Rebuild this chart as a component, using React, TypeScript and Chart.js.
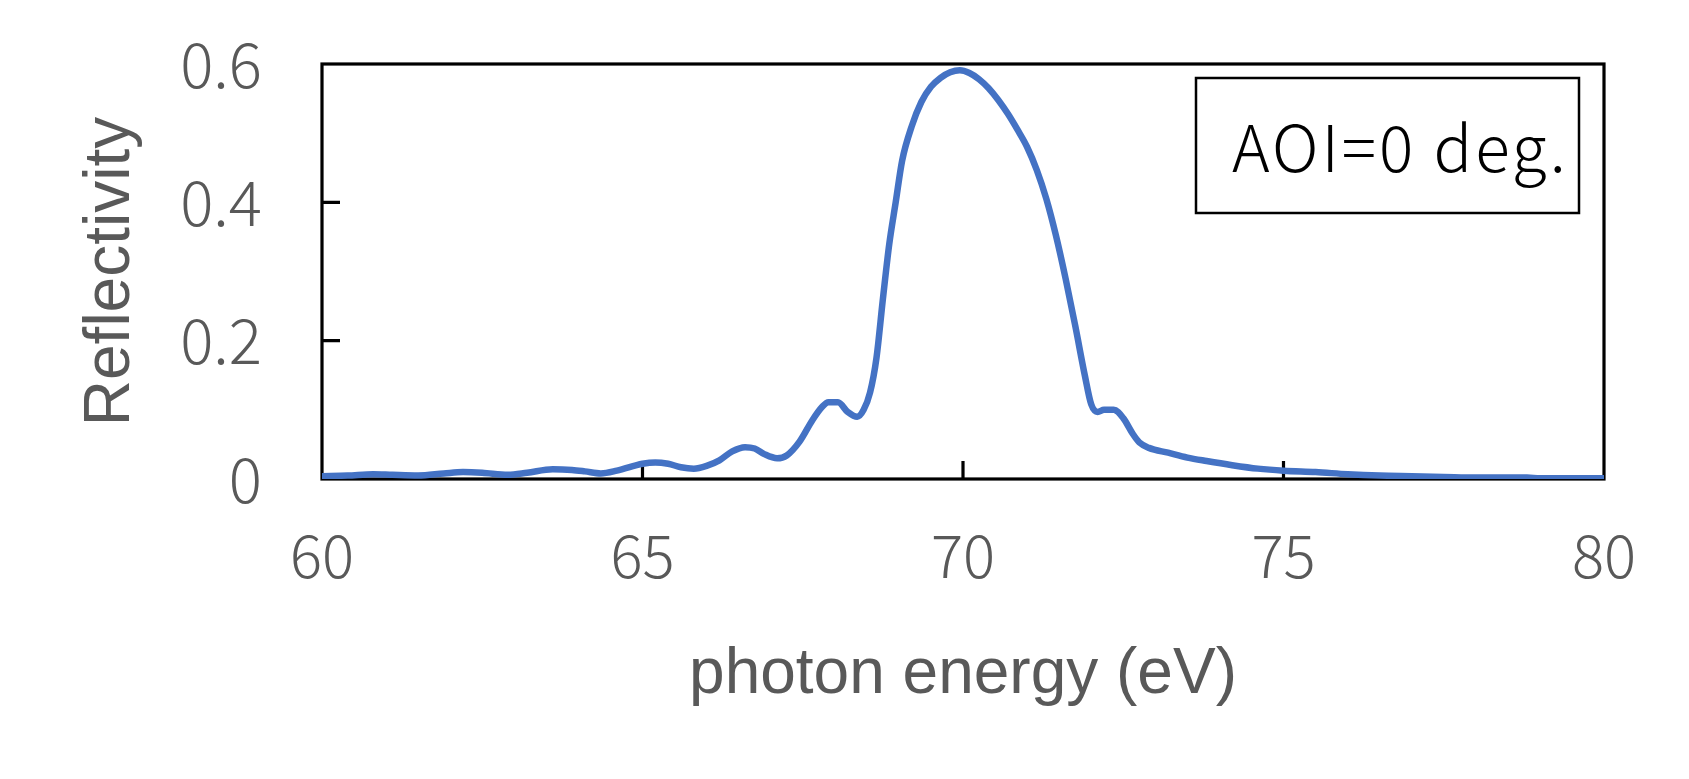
import React, { useEffect, useRef } from 'react';
import { Chart, registerables } from 'chart.js';

Chart.register(...registerables);

// photon energy (eV)
const energy = [
  60.0, 60.4, 60.8, 61.1, 61.5, 61.9, 62.2, 62.5, 62.9, 63.2,
  63.6, 63.9, 64.1, 64.35, 64.6, 65.0, 65.2, 65.4, 65.6, 65.8,
  66.0, 66.2, 66.4, 66.6, 66.75, 66.9, 67.1, 67.25, 67.45, 67.65,
  67.8, 67.9, 68.05, 68.2, 68.35, 68.45, 68.55, 68.65, 68.75, 68.85,
  68.95, 69.05, 69.2, 69.35, 69.5, 69.65, 69.8, 69.95, 70.1, 70.25,
  70.4, 70.55, 70.7, 70.85, 71.0, 71.15, 71.3, 71.45, 71.6, 71.75,
  71.9, 72.0, 72.1, 72.2, 72.35, 72.5, 72.65, 72.75, 72.9, 73.2,
  73.5, 73.8, 74.2, 74.6, 75.0, 75.5, 76.0, 76.5, 77.0, 77.5,
  78.0, 78.8, 79.0, 80.0,
];

// reflectivity at AOI = 0 deg.
const reflectivity = [
  0.004, 0.005, 0.007, 0.006, 0.005, 0.008, 0.010, 0.009, 0.006, 0.009,
  0.014, 0.013, 0.011, 0.008, 0.012, 0.022, 0.024, 0.022, 0.017, 0.015,
  0.019, 0.027, 0.040, 0.046, 0.044, 0.036, 0.030, 0.034, 0.054, 0.085,
  0.104, 0.111, 0.111, 0.097, 0.090, 0.100, 0.125, 0.175, 0.260, 0.340,
  0.400, 0.460, 0.510, 0.545, 0.567, 0.580, 0.588, 0.591, 0.587, 0.578,
  0.565, 0.548, 0.528, 0.505, 0.480, 0.447, 0.405, 0.352, 0.290, 0.222,
  0.150, 0.108, 0.097, 0.100, 0.100, 0.088, 0.065, 0.053, 0.045, 0.038,
  0.031, 0.026, 0.020, 0.015, 0.012, 0.010, 0.007, 0.005, 0.004, 0.003,
  0.002, 0.002, 0.001, 0.001,
];

const xTickValues = [60, 65, 70, 75, 80];
const yTickValues = [0, 0.2, 0.4, 0.6];
const X_TITLE = 'photon energy (eV)';
const Y_TITLE = 'Reflectivity';
const LEGEND_TEXT = 'AOI=0 deg.';

const TICK_FONT = '"Noto Sans CJK JP", "Noto Sans", sans-serif';
const TITLE_FONT = '"Liberation Sans", Arial, sans-serif';
const GRAY = '#595959';

export default function App() {
  const ref = useRef<HTMLCanvasElement | null>(null);

  useEffect(() => {
    const canvas = ref.current;
    if (!canvas) return;

    const framePlugin = {
      id: 'frameAndTicks',
      beforeDatasetsDraw(chart: any) {
        const { ctx, chartArea: a, scales } = chart;
        ctx.save();
        ctx.strokeStyle = '#000000';
        ctx.lineWidth = 3.2;
        ctx.strokeRect(a.left, a.top, a.right - a.left, a.bottom - a.top);
        ctx.beginPath();
        const len = 18;
        xTickValues.forEach((v) => {
          const px = scales.x.getPixelForValue(v);
          if (px > a.left + 3 && px < a.right - 3) {
            ctx.moveTo(px, a.bottom);
            ctx.lineTo(px, a.bottom - len);
          }
        });
        yTickValues.forEach((v) => {
          const py = scales.y.getPixelForValue(v);
          if (py > a.top + 3 && py < a.bottom - 3) {
            ctx.moveTo(a.left, py);
            ctx.lineTo(a.left + len, py);
          }
        });
        ctx.stroke();
        ctx.restore();
      },
      afterDraw(chart: any) {
        const { ctx, chartArea: a } = chart;
        const boxW = 383;
        const boxH = 135;
        const right = a.right - 25;
        const top = a.top + 14;
        const left = right - boxW;
        ctx.save();
        ctx.fillStyle = '#ffffff';
        ctx.fillRect(left, top, boxW, boxH);
        ctx.strokeStyle = '#000000';
        ctx.lineWidth = 2.5;
        ctx.strokeRect(left, top, boxW, boxH);
        ctx.fillStyle = '#000000';
        ctx.font = `300 64px ${TICK_FONT}`;
        (ctx as any).letterSpacing = '3px';
        ctx.textAlign = 'left';
        ctx.textBaseline = 'middle';
        ctx.fillText(LEGEND_TEXT, left + 36, top + boxH / 2 + 2);
        ctx.restore();
      },
    };

    const chart = new Chart(canvas, {
      type: 'line',
      data: {
        datasets: [
          {
            label: LEGEND_TEXT,
            data: energy.map((e, i) => ({ x: e, y: reflectivity[i] })),
            borderColor: '#4472C4',
            borderWidth: 6.5,
            pointRadius: 0,
            fill: false,
            cubicInterpolationMode: 'monotone',
            borderJoinStyle: 'round',
            borderCapStyle: 'round',
          },
        ],
      },
      options: {
        responsive: false,
        animation: false,
        layout: { padding: { top: 64, right: 85, left: 0, bottom: 0 } },
        plugins: {
          legend: { display: false },
          tooltip: { enabled: false },
        },
        scales: {
          x: {
            type: 'linear',
            min: 60,
            max: 80,
            afterFit: (s: any) => {
              s.height = 300;
              s.paddingLeft = 0;
              s.paddingRight = 0;
            },
            afterBuildTicks: (s: any) => {
              s.ticks = xTickValues.map((v) => ({ value: v }));
            },
            grid: { display: false, drawTicks: false },
            border: { display: false },
            ticks: {
              padding: 40,
              color: GRAY,
              font: { family: TICK_FONT, size: 60, weight: '300' as any },
              maxRotation: 0,
              callback: (v: any) => String(v),
            },
            title: {
              display: true,
              text: X_TITLE,
              color: GRAY,
              font: { family: TITLE_FONT, size: 64 },
              padding: { top: 0, bottom: 65 },
            },
          },
          y: {
            type: 'linear',
            min: 0,
            max: 0.6,
            afterFit: (s: any) => {
              s.width = 322;
              s.paddingTop = 0;
              s.paddingBottom = 0;
            },
            afterBuildTicks: (s: any) => {
              s.ticks = yTickValues.map((v) => ({ value: v }));
            },
            grid: { display: false, drawTicks: false },
            border: { display: false },
            ticks: {
              padding: 60,
              color: GRAY,
              font: { family: TICK_FONT, size: 62, weight: '300' as any },
              callback: (v: any) => (v === 0 ? '0' : Number(v).toFixed(1)),
            },
            title: {
              display: true,
              text: Y_TITLE,
              color: GRAY,
              font: { family: TITLE_FONT, size: 64 },
              padding: { top: 73, bottom: 0 },
            },
          },
        },
      },
      plugins: [framePlugin],
    });

    return () => {
      chart.destroy();
    };
  }, []);

  return (
    <div
      style={{
        position: 'fixed',
        left: 0,
        top: 0,
        width: 1689,
        height: 779,
        background: '#ffffff',
      }}
    >
      <canvas ref={ref} width={1689} height={779} />
    </div>
  );
}
